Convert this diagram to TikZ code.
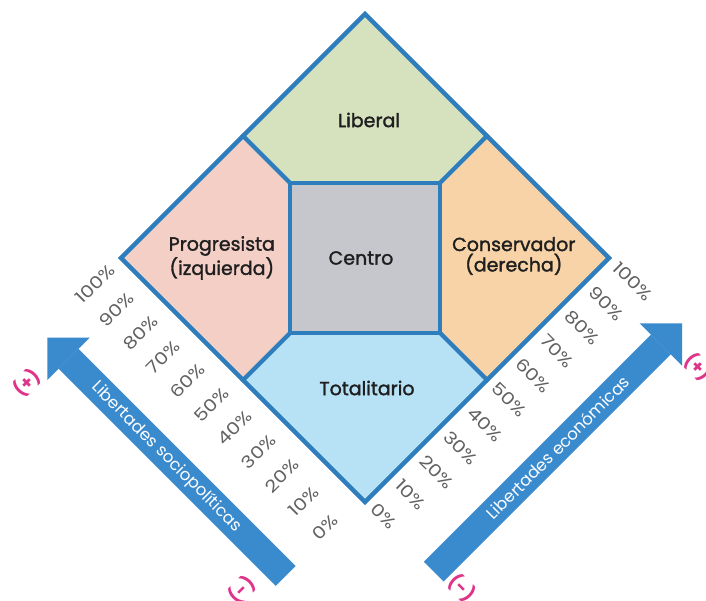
\documentclass[tikz,border=0pt]{standalone}
\usepackage{fontspec}
\setmainfont{Poppins}
\newfontfamily\labelfont{Poppins}[FakeBold=1.6]
\newfontfamily\pctfont{Poppins}[FakeStretch=1.2]
\usepackage{tikz}
\usetikzlibrary{positioning}
\usetikzlibrary{arrows.meta}
\definecolor{lineblue}{RGB}{46,126,190}
\definecolor{arrowblue}{RGB}{58,138,206}
\definecolor{colliberal}{RGB}{214,226,190}
\definecolor{colprogre}{RGB}{243,207,198}
\definecolor{colcentro}{RGB}{197,199,204}
\definecolor{colconser}{RGB}{249,211,168}
\definecolor{coltotal}{RGB}{183,225,245}
\definecolor{signpink}{RGB}{222,52,138}
\tikzset{
    myregion/.style = {line width=2.8pt, draw=lineblue, line join=miter},
    mylabel/.style = {align=center, font=\labelfont\fontsize{13.5}{14.5}\selectfont, text=black!88},
    mypctl/.style = {rotate=45, anchor=west, inner sep=1pt, font=\pctfont\fontsize{12}{12}\selectfont, text=black!62},
    mypctr/.style = {rotate=-45, anchor=west, inner sep=1pt, font=\pctfont\fontsize{12}{12}\selectfont, text=black!62},
    myarrow/.style = {line width=0.7cm, draw=arrowblue, -{Triangle[width=1.5cm,length=0.75cm,line width'=0pt]}},
    myarrowtext/.style = {sloped, text=white, font=\fontsize{11.8}{11.8}\selectfont},
    mysign/.style = {text=signpink, font=\bfseries\fontsize{13}{13}\selectfont, inner sep=0pt}
}

\begin{document}
\begin{tikzpicture}
\path[use as bounding box, fill=white] (-9.125,-8.55) rectangle (8.525,6.45);
%
\coordinate (top) at (0,6.1);
\coordinate (rgt) at (6.1,0);
\coordinate (bot) at (0,-6.1);
\coordinate (lft) at (-6.1,0);
\coordinate (mtl) at (-3.05,3.05);
\coordinate (mtr) at (3.05,3.05);
\coordinate (mbr) at (3.05,-3.05);
\coordinate (mbl) at (-3.05,-3.05);
\coordinate (itl) at (-1.875,1.875);
\coordinate (itr) at (1.875,1.875);
\coordinate (ibr) at (1.875,-1.875);
\coordinate (ibl) at (-1.875,-1.875);
%
\draw[myregion, fill=colliberal] (top) -- (mtr) -- (itr) -- (itl) -- (mtl) -- cycle;
\draw[myregion, fill=colconser] (rgt) -- (mbr) -- (ibr) -- (itr) -- (mtr) -- cycle;
\draw[myregion, fill=coltotal] (bot) -- (mbl) -- (ibl) -- (ibr) -- (mbr) -- cycle;
\draw[myregion, fill=colprogre] (lft) -- (mtl) -- (itl) -- (ibl) -- (mbl) -- cycle;
\draw[myregion, fill=colcentro] (itl) rectangle (ibr);
\draw[myregion] (top) -- (rgt) -- (bot) -- (lft) -- cycle;
%
\node[mylabel] at (0.1,3.45) (lib) {Liberal};
\node[mylabel] at (-0.1,0) (cen) {Centro};
\node[mylabel] at (-3.58,0) (pro) {Progresista\\(izquierda)};
\node[mylabel] at (3.72,0.05) (con) {Conservador\\(derecha)};
\node[mylabel] at (0.05,-3.25) (tot) {Totalitario};
%
\node[mypctl] at (-1.272,-7.006) (l0) {0\%};
\node[mypctl] at (-1.864,-6.414) (l10) {10\%};
\node[mypctl] at (-2.455,-5.823) (l20) {20\%};
\node[mypctl] at (-3.047,-5.231) (l30) {30\%};
\node[mypctl] at (-3.639,-4.639) (l40) {40\%};
\node[mypctl] at (-4.230,-4.047) (l50) {50\%};
\node[mypctl] at (-4.822,-3.456) (l60) {60\%};
\node[mypctl] at (-5.414,-2.864) (l70) {70\%};
\node[mypctl] at (-6.006,-2.272) (l80) {80\%};
\node[mypctl] at (-6.597,-1.681) (l90) {90\%};
\node[mypctl] at (-7.189,-1.089) (l100) {100\%};
%
\node[mypctr] at (0.202,-6.180) (r0) {0\%};
\node[mypctr] at (0.806,-5.576) (r10) {10\%};
\node[mypctr] at (1.410,-4.972) (r20) {20\%};
\node[mypctr] at (2.014,-4.368) (r30) {30\%};
\node[mypctr] at (2.618,-3.764) (r40) {40\%};
\node[mypctr] at (3.222,-3.160) (r50) {50\%};
\node[mypctr] at (3.825,-2.557) (r60) {60\%};
\node[mypctr] at (4.429,-1.953) (r70) {70\%};
\node[mypctr] at (5.033,-1.349) (r80) {80\%};
\node[mypctr] at (5.637,-0.745) (r90) {90\%};
\node[mypctr] at (6.241,-0.141) (r100) {100\%};
%
\coordinate (soc0) at (-1.981,-7.949);
\coordinate (soc1) at (-7.942,-1.988);
\coordinate (eco0) at (1.718,-7.842);
\coordinate (eco1) at (7.927,-1.633);
\draw[myarrow] (soc0) -- node[myarrowtext] (soctext) {Libertades sociopolíticas} (soc1);
\draw[myarrow] (eco0) -- node[myarrowtext] (ecotext) {Libertades económicas} (eco1);
%
\node[mysign, rotate=45] at (-8.45,-3.125) (socplus) {(+)};
\node[mysign, rotate=45] at (-3.075,-8.3) (socminus) {(-)};
\node[mysign, rotate=-45] at (8.325,-2.725) (ecoplus) {(+)};
\node[mysign, rotate=-45] at (2.425,-8.25) (ecominus) {(-)};

\end{tikzpicture}
\end{document}
